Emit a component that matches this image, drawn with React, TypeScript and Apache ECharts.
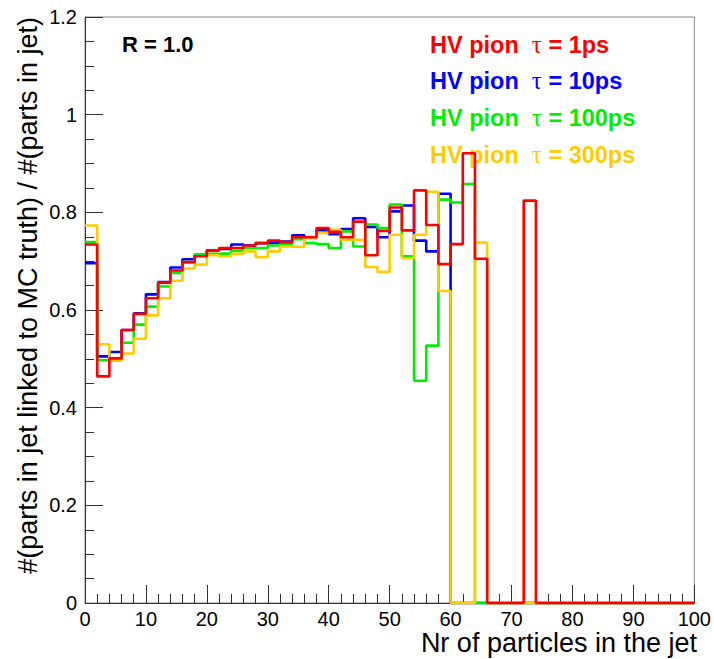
import React, { useEffect, useRef } from "react";
import * as echarts from "echarts";

const BIN_WIDTH = 2;
const X_TICKS = [0, 10, 20, 30, 40, 50, 60, 70, 80, 90, 100];
const Y_TICKS = [0, 0.2, 0.4, 0.6, 0.8, 1, 1.2];

// bin i covers [2i, 2i+2]
const red1ps = [
  0.734, 0.464, 0.501, 0.559, 0.592, 0.624, 0.656, 0.681, 0.698, 0.71,
  0.722, 0.727, 0.727, 0.732, 0.737, 0.742, 0.739, 0.749, 0.749, 0.768,
  0.76, 0.749, 0.781, 0.712, 0.762, 0.81, 0.763, 0.845, 0.774, 0.694,
  0.735, 0.921, 0.705, 0, 0, 0, 0.824, 0, 0, 0,
  0, 0, 0, 0, 0, 0, 0, 0, 0, 0,
];
const blue10ps = [
  0.696, 0.505, 0.514, 0.559, 0.593, 0.632, 0.657, 0.687, 0.704, 0.713,
  0.722, 0.725, 0.734, 0.732, 0.737, 0.738, 0.74, 0.753, 0.748, 0.763,
  0.755, 0.766, 0.788, 0.77, 0.749, 0.802, 0.814, 0.742, 0.72, 0.838,
  0, 0, 0, 0, 0, 0, 0, 0, 0, 0,
  0, 0, 0, 0, 0, 0, 0, 0, 0, 0,
];
const green100ps = [
  0.739, 0.497, 0.497, 0.533, 0.57, 0.607, 0.648, 0.676, 0.698, 0.713,
  0.715, 0.716, 0.721, 0.727, 0.727, 0.732, 0.735, 0.745, 0.737, 0.735,
  0.727, 0.761, 0.73, 0.775, 0.768, 0.816, 0.71, 0.455, 0.527, 0.826,
  0.82, 0.858, 0, 0, 0, 0, 0, 0, 0, 0,
  0, 0, 0, 0, 0, 0, 0, 0, 0, 0,
];
const yellow300ps = [
  0.773, 0.53, 0.497, 0.511, 0.541, 0.589, 0.624, 0.66, 0.685, 0.693,
  0.712, 0.71, 0.715, 0.72, 0.708, 0.72, 0.73, 0.729, 0.747, 0.758,
  0.764, 0.744, 0.743, 0.688, 0.678, 0.754, 0.706, 0.754, 0.842, 0.639,
  0, 0, 0.738, 0, 0, 0, 0, 0, 0, 0,
  0, 0, 0, 0, 0, 0, 0, 0, 0, 0,
];

const legendLabels = ["1ps", "10ps", "100ps", "300ps"];
const legendColors = ["#ff0000", "#0000ff", "#00ee00", "#ffcc00"];

function toSteps(vals: number[]): number[][] {
  const pts: number[][] = [];
  vals.forEach((v, i) => {
    pts.push([BIN_WIDTH * i, v]);
    pts.push([BIN_WIDTH * (i + 1), v]);
  });
  return pts;
}

const FONT = "'Liberation Sans', Arial, sans-serif";

export default function App() {
  const ref = useRef<HTMLDivElement>(null);
  useEffect(() => {
    if (!ref.current) return;
    const chart = echarts.init(ref.current, null, { renderer: "svg" });
    const mk = (name: string, data: number[], color: string) => ({
      name,
      type: "line",
      data: toSteps(data),
      showSymbol: false,
      symbol: "none",
      clip: false,
      lineStyle: { color, width: 2.6 },
      itemStyle: { color },
      emphasis: { disabled: true },
    });
    const legendTexts = legendLabels.map((lab, i) => ({
      type: "text",
      left: 430,
      top: [45, 81, 118, 155][i] - 13,
      style: {
        text: `{a|HV pion  }{t|τ}{a| = ${lab}}`,
        rich: {
          a: { fontFamily: FONT, fontWeight: "bold", fontSize: 23.5, fill: legendColors[i], lineHeight: 26 },
          t: { fontFamily: "'Liberation Serif', serif", fontSize: 25, fill: legendColors[i], lineHeight: 26 },
        },
      },
    }));
    chart.setOption({
      animation: false,
      backgroundColor: "#ffffff",
      grid: {
        left: 85,
        right: 18,
        top: 17,
        bottom: 56,
        show: true,
        borderColor: "#888",
        borderWidth: 1,
        containLabel: false,
      },
      xAxis: {
        type: "value",
        min: X_TICKS[0],
        max: X_TICKS[X_TICKS.length - 1],
        interval: 10,
        axisLine: { show: true, lineStyle: { color: "#333", width: 1 } },
        axisTick: { show: true, inside: true, length: 18, lineStyle: { color: "#333" } },
        minorTick: { show: true, splitNumber: 5, length: 9, lineStyle: { color: "#333" } },
        splitLine: { show: false },
        axisLabel: { fontFamily: FONT, fontSize: 20, color: "#000", margin: 6 },
      },
      yAxis: {
        type: "value",
        min: Y_TICKS[0],
        max: Y_TICKS[Y_TICKS.length - 1],
        interval: 0.2,
        axisLine: { show: true, lineStyle: { color: "#333", width: 1 } },
        axisTick: { show: true, inside: true, length: 18, lineStyle: { color: "#333" } },
        minorTick: { show: true, splitNumber: 4, length: 9, lineStyle: { color: "#333" } },
        splitLine: { show: false },
        axisLabel: { fontFamily: FONT, fontSize: 20, color: "#000", margin: 8 },
      },
      series: [
        mk("HV pion tau = 10ps", blue10ps, legendColors[1]),
        mk("HV pion tau = 100ps", green100ps, legendColors[2]),
        mk("HV pion tau = 300ps", yellow300ps, legendColors[3]),
        mk("HV pion tau = 1ps", red1ps, legendColors[0]),
      ],
      graphic: [
        {
          type: "text",
          left: 122,
          top: 33,
          style: { text: "R = 1.0", fontFamily: FONT, fontWeight: "bold", fontSize: 22, fill: "#000" },
        },
        ...legendTexts,
        {
          type: "text",
          x: 697,
          y: 643,
          style: {
            text: "Nr of particles in the jet",
            fontFamily: FONT,
            fontSize: 27,
            fill: "#000",
            textAlign: "right",
            textVerticalAlign: "middle",
          },
        },
        {
          type: "text",
          x: 28,
          y: 17,
          rotation: Math.PI / 2,
          style: {
            text: "#(parts in jet linked to MC truth) / #(parts in jet)",
            fontFamily: FONT,
            fontSize: 27,
            fill: "#000",
            textAlign: "right",
            textVerticalAlign: "middle",
          },
        },
      ],
    });
    return () => chart.dispose();
  }, []);
  return <div ref={ref} style={{ width: 714, height: 659, position: "absolute", left: 0, top: 0 }} />;
}
